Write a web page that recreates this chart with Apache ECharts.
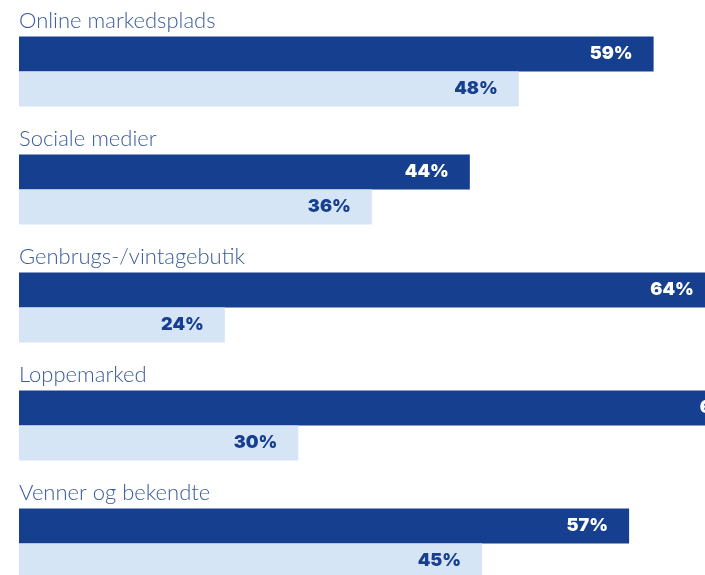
<!DOCTYPE html>
<html>
<head>
<meta charset="utf-8">
<script src="https://cdn.jsdelivr.net/npm/echarts@6/dist/echarts.min.js"></script>
<style>
html,body{margin:0;padding:0;background:#fff;}
#chart{width:705px;height:575px;}
</style>
</head>
<body>
<div id="chart"></div>
<script>
const categories = ['Online markedsplads', 'Sociale medier', 'Genbrugs-/vintagebutik', 'Loppemarked', 'Venner og bekendte'];
const darkValues = [59, 44, 64, 68, 57];
const lightValues = [48, 36, 24, 30, 45];

const chart = echarts.init(document.getElementById('chart'));
const labelBase = {
  show: true,
  position: 'insideRight',
  distance: 21,
  fontFamily: 'Inter',
  fontWeight: 900,
  fontSize: 18,
  formatter: p => p.value + '%'
};
chart.setOption({
  animation: false,
  backgroundColor: '#ffffff',
  grid: { left: 19, top: 12.5, width: 800, height: 590, containLabel: false, outerBoundsMode: 'none' },
  xAxis: {
    type: 'value', min: 7.2, max: 72.5,
    show: false
  },
  yAxis: {
    type: 'category', data: categories, inverse: true,
    axisLine: { show: false }, axisTick: { show: false },
    z: 10,
    axisLabel: {
      inside: true, margin: 0, align: 'left', verticalAlign: 'middle',
      formatter: v => '{t|' + v + '}',
      rich: {
        t: { padding: [0, 0, 102, 0], color: '#3a5c9e', fontFamily: 'Lato', fontWeight: 300, fontSize: 22 }
      },
      color: '#3a5c9e', fontFamily: 'Lato', fontSize: 22
    }
  },
  series: [
    {
      type: 'bar', data: darkValues, barWidth: 35, barGap: '0%',
      itemStyle: { color: '#163f8f' },
      label: Object.assign({}, labelBase, { color: '#ffffff' })
    },
    {
      type: 'bar', data: lightValues, barWidth: 35,
      itemStyle: { color: '#d6e5f6' },
      label: Object.assign({}, labelBase, { color: '#163f8f' })
    }
  ]
});
</script>
</body>
</html>
